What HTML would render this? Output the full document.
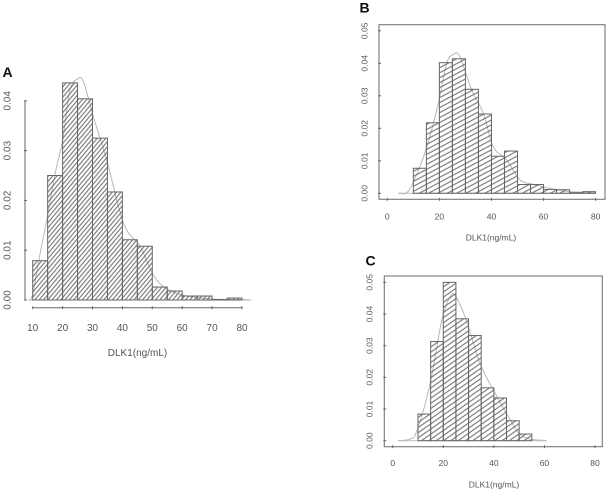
<!DOCTYPE html>
<html lang="en">
<head>
<meta charset="utf-8">
<title>DLK1 histograms</title>
<style>
html,body{margin:0;padding:0;background:#fff;width:608px;height:490px;overflow:hidden}
svg{display:block;position:absolute;left:0;top:0}
text{font-family:"Liberation Sans",sans-serif;fill:#555}
</style>
</head>
<body>
<svg id="chart" width="608" height="490" viewBox="0 0 608 490" xmlns="http://www.w3.org/2000/svg">
<defs>
<filter id="soft" x="-5%" y="-5%" width="110%" height="110%"><feGaussianBlur stdDeviation="0.35"/></filter>
<pattern id="hatch-a" patternUnits="userSpaceOnUse" width="6" height="3.3" patternTransform="rotate(-50)"><line x1="0" y1="1.65" x2="6" y2="1.65" stroke="#666" stroke-width="1"/></pattern>
<pattern id="hatch-b" patternUnits="userSpaceOnUse" width="6" height="4.4" patternTransform="rotate(-28)"><line x1="0" y1="2.2" x2="6" y2="2.2" stroke="#666" stroke-width="1"/></pattern>
<pattern id="hatch-c" patternUnits="userSpaceOnUse" width="6" height="4.2" patternTransform="rotate(-35)"><line x1="0" y1="2.1" x2="6" y2="2.1" stroke="#666" stroke-width="1"/></pattern>
</defs>
<g id="root" filter="url(#soft)"></g>
</svg>
<script>
const binStartsA = [10,15,20,25,30,35,40,45,50,55,60,65,70,75];
const barValuesA = [0.0079,0.025,0.0436,0.0404,0.0325,0.0217,0.0121,0.0108,0.0026,0.0018,0.0008,0.0008,0.0001,0.0004];
const curveXA = [8.7,10,12.5,15,17.5,20,22.4,25,27,30.3,34.8,40.4,46,50,53.7,60,70,80,83];
const curveYA = [0,0.0012,0.0094,0.017,0.0254,0.032,0.042,0.0444,0.0438,0.0368,0.028,0.0154,0.0107,0.0054,0.0027,0.001,0.0002,0.0001,0];
const xTicksA = [10,20,30,40,50,60,70,80];
const yTicksA = [0,0.01,0.02,0.03,0.04];

const binStartsB = [10,15,20,25,30,35,40,45,50,55,60,65,70,75];
const barValuesB = [0.0077,0.0217,0.0402,0.0414,0.032,0.0244,0.0114,0.013,0.0027,0.0027,0.0012,0.0011,0.0002,0.0005];
const curveXB = [4.2,8,12.5,16,19.6,22.8,25.6,27.9,32.4,36.9,40.7,45.8,51,56,62.5,70,80];
const curveYB = [0,0.0006,0.0082,0.0165,0.0277,0.04,0.0428,0.042,0.0318,0.0246,0.0143,0.0103,0.0041,0.0028,0.0015,0.0005,0.0003];
const xTicksB = [0,20,40,60,80];
const yTicksB = [0,0.01,0.02,0.03,0.04,0.05];

const binStartsC = [10,15,20,25,30,35,40,45,50];
const barValuesC = [0.0084,0.0313,0.05,0.0385,0.0332,0.0167,0.0135,0.0063,0.0021];
const curveXC = [2.2,6.8,9.5,14.8,19.4,22.7,25,29.3,34.5,39.8,45,50,54.3,60.9];
const curveYC = [0,0.0005,0.003,0.018,0.038,0.0455,0.0455,0.0376,0.0244,0.016,0.0086,0.0023,0.0005,0.0001];
const xTicksC = [0,20,40,60,80];
const yTicksC = [0,0.01,0.02,0.03,0.04,0.05];

const binWidth = 5;
const NS = 'http://www.w3.org/2000/svg';
const root = document.getElementById('root');

function make(tag, attrs, parent, content) {
  const el = document.createElementNS(NS, tag);
  for (const k in attrs) el.setAttribute(k, attrs[k]);
  if (content !== undefined) el.textContent = content;
  parent.appendChild(el);
  return el;
}

function smoothPath(pts) {
  let d = 'M' + pts[0][0].toFixed(2) + ' ' + pts[0][1].toFixed(2);
  for (let i = 0; i < pts.length - 1; i++) {
    const p0 = pts[Math.max(0, i - 1)], p1 = pts[i], p2 = pts[i + 1], p3 = pts[Math.min(pts.length - 1, i + 2)];
    const c1x = p1[0] + (p2[0] - p0[0]) / 6, c1y = p1[1] + (p2[1] - p0[1]) / 6;
    const c2x = p2[0] - (p3[0] - p1[0]) / 6, c2y = p2[1] - (p3[1] - p1[1]) / 6;
    d += 'C' + c1x.toFixed(2) + ' ' + c1y.toFixed(2) + ' ' + c2x.toFixed(2) + ' ' + c2y.toFixed(2) + ' ' + p2[0].toFixed(2) + ' ' + p2[1].toFixed(2);
  }
  return d;
}

function drawPanel(cfg) {
  const g = make('g', {}, root);
  
  
  const xs = v => cfg.x0 + (v - cfg.xMin) * cfg.xUnit;
  const ys = v => cfg.y0 - v * cfg.yUnit;

  // density curve behind bars
  const pts = cfg.curveX.map((x, i) => [xs(x), ys(cfg.curveY[i])]);
  const curve = make('path', {d: smoothPath(pts), fill: 'none', stroke: '#b8b8b8', 'stroke-width': 1}, g);
  
  

  // baseline
  const base = make('line', {x1: xs(cfg.baseFrom), x2: xs(cfg.baseTo), y1: ys(0), y2: ys(0), stroke: '#bbb', 'stroke-width': 1}, g);
  
  

  // bars
  cfg.bins.forEach((b, i) => {
    const h = cfg.values[i] * cfg.yUnit;
    const bar = make('rect', {x: xs(b), y: ys(cfg.values[i]), width: binWidth * cfg.xUnit, height: h, fill: 'url(#hatch-' + cfg.id + ')', stroke: '#666', 'stroke-width': 1}, g);
    
    
  });

  // frame
  if (cfg.box) {
    const frame = make('rect', {x: cfg.box[0], y: cfg.box[1], width: cfg.box[2], height: cfg.box[3], fill: 'none', stroke: '#777', 'stroke-width': 1.1}, g);
    
    
  } else {
    const yLine = make('line', {x1: cfg.yAxisX, x2: cfg.yAxisX, y1: ys(cfg.yTicks[cfg.yTicks.length - 1]), y2: ys(0), stroke: '#666', 'stroke-width': 1}, g);
    
    
    const xLine = make('line', {x1: xs(cfg.xTicks[0]), x2: xs(cfg.xTicks[cfg.xTicks.length - 1]), y1: cfg.xAxisY, y2: cfg.xAxisY, stroke: '#666', 'stroke-width': 1}, g);
    
    
  }

  // x ticks + labels
  cfg.xTicks.forEach(t => {
    const tick = make('line', {x1: xs(t), x2: xs(t), y1: cfg.xAxisY - 1.5, y2: cfg.xAxisY + 1.5, stroke: '#666', 'stroke-width': 1}, g);
    
    
    const label = make('text', {x: xs(t), y: cfg.xLabelY, 'text-anchor': 'middle', 'font-size': cfg.fs}, g, String(t));
    
    
  });

  // y ticks + labels
  cfg.yTicks.forEach(t => {
    const tick = make('line', {x1: cfg.yAxisX - 1, x2: cfg.yAxisX + 2, y1: ys(t), y2: ys(t), stroke: '#666', 'stroke-width': 1}, g);
    
    
    const label = make('text', {transform: 'translate(' + cfg.yLabelX + ' ' + ys(t) + ') rotate(-90)', 'text-anchor': 'middle', 'font-size': cfg.fs}, g, t.toFixed(2));
    
    
  });

  const title = make('text', {x: cfg.titleX, y: cfg.titleY, 'text-anchor': 'middle', 'font-size': cfg.fs}, g, 'DLK1(ng/mL)');
  
  

  const letter = make('text', {x: cfg.letterX, y: cfg.letterY, 'font-size': 14, 'font-weight': 'bold', style: 'fill:#111'}, g, cfg.id.toUpperCase());
  
  
}

drawPanel({id:'a', bins:binStartsA, values:barValuesA, curveX:curveXA, curveY:curveYA, xTicks:xTicksA, yTicks:yTicksA,
  xMin:10, x0:32.7, xUnit:2.99, y0:300, yUnit:4980, baseFrom:8.7, baseTo:83,
  yAxisX:25, xAxisY:307.7, xLabelY:331, yLabelX:10.5, titleX:137.5, titleY:356, fs:10, letterX:2.5, letterY:77});
drawPanel({id:'b', bins:binStartsB, values:barValuesB, curveX:curveXB, curveY:curveYB, xTicks:xTicksB, yTicks:yTicksB,
  xMin:0, x0:387.3, xUnit:2.604, y0:193.3, yUnit:3250, baseFrom:4.2, baseTo:80,
  box:[379,24.7,226,174.6], yAxisX:379, xAxisY:199.3, xLabelY:219.5, yLabelX:367.5, titleX:491, titleY:240.5, fs:8.5, letterX:359.5, letterY:12.5});
drawPanel({id:'c', bins:binStartsC, values:barValuesC, curveX:curveXC, curveY:curveYC, xTicks:xTicksC, yTicks:yTicksC,
  xMin:0, x0:392.7, xUnit:2.529, y0:440.7, yUnit:3167, baseFrom:2.2, baseTo:60.9,
  box:[384.3,276,218,170.7], yAxisX:384.3, xAxisY:446.7, xLabelY:466, yLabelX:372.5, titleX:494, titleY:487.5, fs:8.5, letterX:365.5, letterY:265.5});
</script>
</body>
</html>
